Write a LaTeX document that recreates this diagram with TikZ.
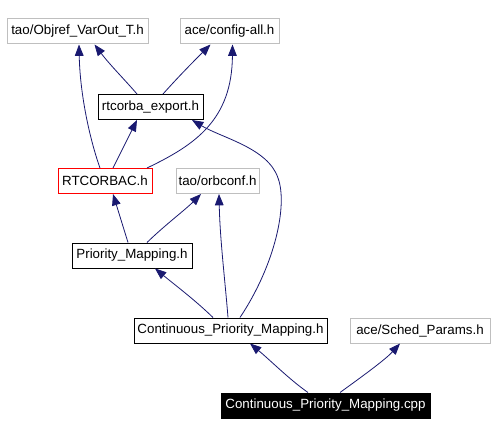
\documentclass[tikz,border=0pt]{standalone}
\usepackage{fontspec}
\setmainfont{Liberation Sans}
\usetikzlibrary{arrows.meta,calc}
\definecolor{edgeblue}{HTML}{191970}
\definecolor{extgray}{HTML}{BFBFBF}
\begin{document}
\begin{tikzpicture}[x=0.75pt,y=-0.75pt,
  box/.style={draw=black, line width=0.75pt, inner sep=0pt, minimum height=18.75pt, font=\fontsize{10pt}{12pt}\selectfont, anchor=center},
  ext/.style={box, draw=extgray},
  cur/.style={box, draw=red},
  main/.style={box, fill=black, text=white},
  dep/.style={draw=edgeblue, line width=0.6pt, -{Triangle[length=8.5pt,width=6.5pt,fill=edgeblue]}}]
\useasboundingbox (0,0) rectangle (495,435);
\node[ext, minimum width=105.75pt] (objref) at (77.5,31.5) {tao/Objref\_VarOut\_T.h};
\node[ext, minimum width=74.25pt] (config) at (229.5,31.5) {ace/config-all.h};
\node[box, minimum width=78.75pt] (export) at (150.5,107) {rtcorba\_export.h};
\node[cur, minimum width=70.5pt] (rtcorbac) at (105,181) {RTCORBAC.h};
\node[ext, minimum width=62.25pt] (orbconf) at (217.5,181) {tao/orbconf.h};
\node[box, minimum width=90pt] (pm) at (132,255.5) {Priority\_Mapping.h};
\node[box, minimum width=144.75pt] (cpmh) at (230.5,330.5) {Continuous\_Priority\_Mapping.h};
\node[ext, minimum width=105pt] (sched) at (420,330.5) {ace/Sched\_Params.h};
\node[main, minimum width=156.75pt] (cpp) at (325.5,405.5) {Continuous\_Priority\_Mapping.cpp};

\draw[dep] ($(rtcorbac.north)+(-5,0)$) .. controls (90,140) and (80,95) .. ($(objref.south)+(1.5,0)$);
\draw[dep] ($(export.north)+(-13.5,0)$) .. controls (125,80) and (110,65) .. ($(objref.south)+(17,0)$);
\draw[dep] ($(export.north)+(12.5,0)$) .. controls (180,75) and (195,60) .. ($(config.south)+(-19,0)$);
\draw[dep] ($(rtcorbac.north)+(42,0)$) .. controls (195,145) and (232,120) .. ($(config.south)+(3,0)$);
\draw[dep] ($(rtcorbac.north)+(8,0)$) -- ($(export.south)+(-13.5,0)$);
\draw[dep] ($(cpmh.north)+(9.5,0)$) .. controls (275,265) and (288,205) .. (278,178) .. controls (268,148) and (222,138) .. ($(export.south)+(41.5,0)$);
\draw[dep] ($(pm.north)+(-4,0)$) -- ($(rtcorbac.south)+(8,0)$);
\draw[dep] ($(pm.north)+(15,0)$) .. controls (165,225) and (185,210) .. ($(orbconf.south)+(-16.5,0)$);
\draw[dep] ($(cpmh.north)+(-2.5,0)$) .. controls (225,280) and (220,240) .. ($(orbconf.south)+(1.5,0)$);
\draw[dep] ($(cpmh.north)+(-17.5,0)$) .. controls (195,300) and (175,285) .. ($(pm.south)+(23,0)$);
\draw[dep] ($(cpp.north)+(-17.5,0)$) .. controls (290,380) and (270,360) .. ($(cpmh.south)+(19.5,0)$);
\draw[dep] ($(cpp.north)+(14.5,0)$) .. controls (360,378) and (385,360) .. ($(sched.south)+(-20,0)$);
\end{tikzpicture}
\end{document}
